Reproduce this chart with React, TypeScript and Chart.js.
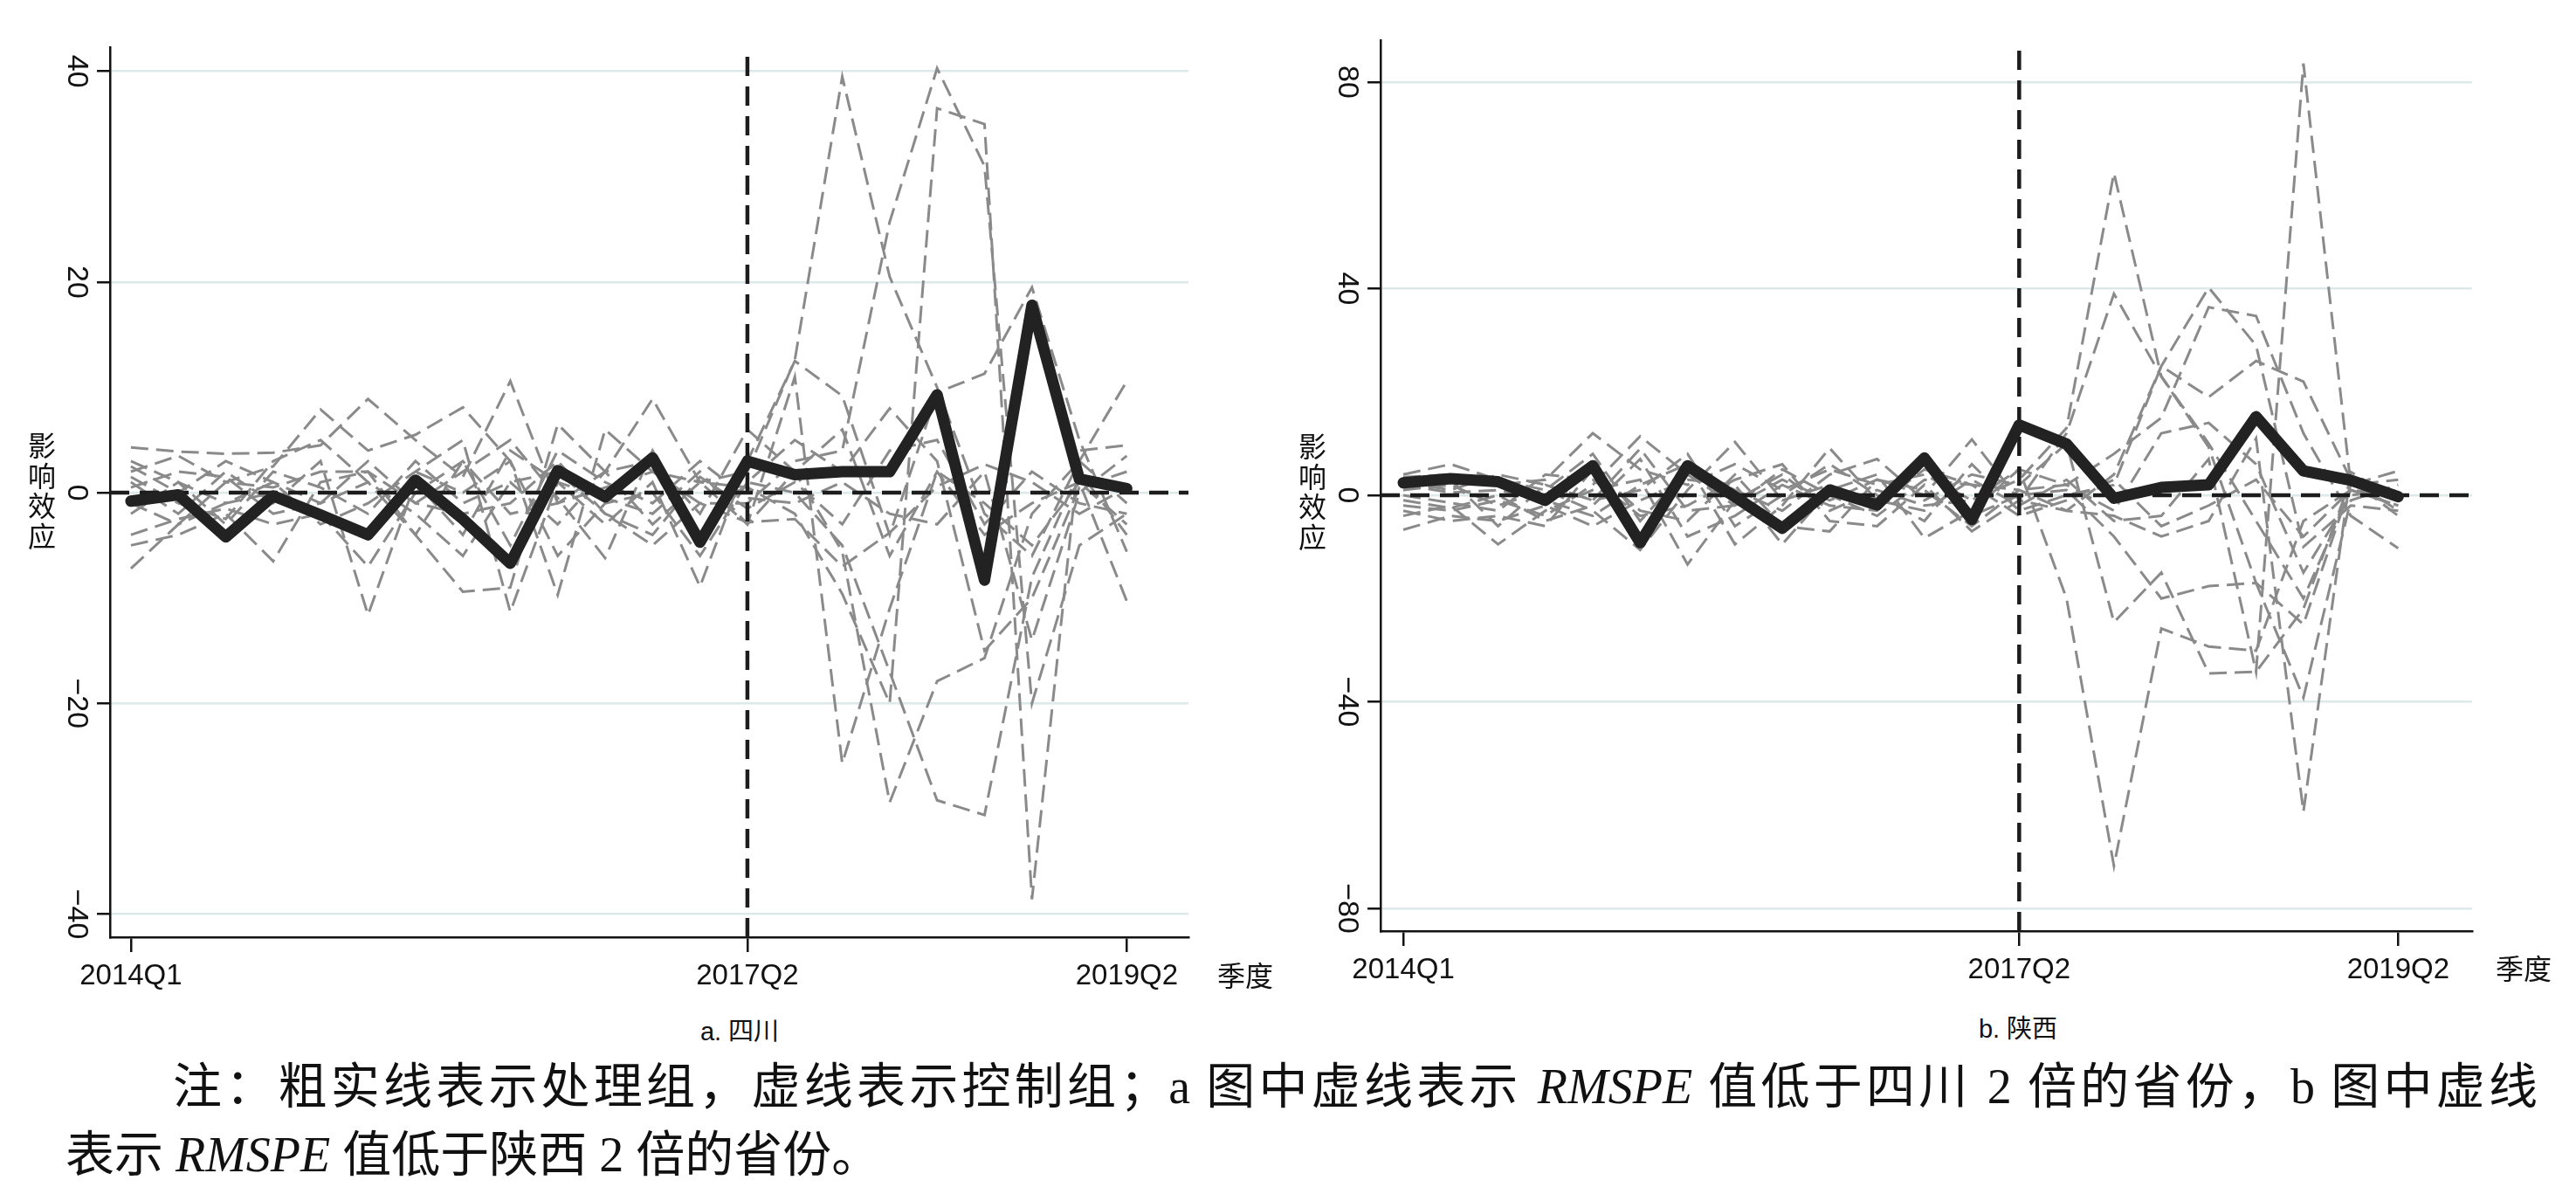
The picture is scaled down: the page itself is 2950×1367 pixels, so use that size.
import { useEffect, useRef } from "react";
import { Chart, registerables, type ChartConfiguration } from "chart.js";

Chart.register(...registerables);
Chart.defaults.font.family = "'Liberation Sans', Arial, sans-serif";

const quarterLabels = [
  "2014Q1", "2014Q2", "2014Q3", "2014Q4",
  "2015Q1", "2015Q2", "2015Q3", "2015Q4",
  "2016Q1", "2016Q2", "2016Q3", "2016Q4",
  "2017Q1", "2017Q2", "2017Q3", "2017Q4",
  "2018Q1", "2018Q2", "2018Q3", "2018Q4",
  "2019Q1", "2019Q2",
];
const xTickLabels = ["2014Q1", "2017Q2", "2019Q2"];
const treatQuarter = "2017Q2";

// a. 四川
const sichuanYTicks = [40, 20, 0, -20, -40];
const sichuanTreated = [-0.8, -0.2, -4.2, -0.3, -2.1, -4.0, 1.2, -2.5, -6.7, 2.1, -0.4, 3.3, -4.7, 3.0, 1.7, 2.0, 2.0, 9.3, -8.3, 17.8, 1.3, 0.4];
const sichuanControls = [
  [4.3, 3.9, 3.7, 3.8, 4.5, 8.9, 5.0, 1.5, 10.6, -1.0, 0.5, 2.0, 1.0, 2.0, 12.6, 39.5, 20.5, 10.0, -2.0, -6.0, 3.0, 10.6],
  [2.0, 3.5, 1.0, 2.5, 7.9, 4.0, 5.5, 8.1, 3.0, -9.7, 6.0, 2.0, -1.0, -1.0, 3.0, 4.0, 25.7, 40.3, 31.0, -20.0, -5.0, -2.0],
  [-2.0, 1.0, -3.0, 2.0, 0.5, -2.0, 3.0, -1.0, 1.0, -3.0, 2.0, 8.9, 1.0, 0.5, -2.0, -9.6, -20.0, 36.5, 35.0, -38.6, 4.0, 4.5],
  [1.0, -2.0, 2.0, -1.0, 3.0, -11.6, 1.0, -4.0, 4.0, 1.0, -3.0, 1.0, -8.9, 3.0, 12.5, 9.2, -4.0, 9.5, 11.3, 19.5, 5.0, -5.6],
  [-5.0, -4.0, -2.0, -6.5, 1.0, 2.0, -4.0, -9.4, -9.0, 6.5, 2.0, -3.0, 1.0, -3.0, 11.0, -25.7, -11.0, 2.0, -1.0, -5.0, 1.0, -3.0],
  [-7.2, -3.0, -1.0, 1.0, -3.0, -1.0, 2.0, 5.0, -11.3, 1.0, -0.5, -2.0, 2.0, -3.0, 2.0, -5.6, -29.4, -17.9, -15.7, -2.0, 3.0, -1.0],
  [0.5, 2.0, 1.5, -2.0, -1.0, 3.0, -1.0, 2.0, 5.0, -0.5, -6.2, 4.0, -4.0, 1.0, 0.0, -5.0, -17.0, -29.2, -30.6, -8.0, 2.0, -4.0],
  [3.0, 1.0, -1.0, 0.0, -2.0, -7.0, 0.0, 3.0, -2.0, -1.0, 2.0, 3.0, -2.0, 6.0, 2.0, 6.0, -6.0, 2.0, -4.0, -1.0, 1.0, -10.3],
  [-1.0, -3.0, 1.0, 0.5, 2.0, 2.0, -1.0, -2.0, -1.0, 3.0, -2.0, -5.0, -1.0, -2.8, -2.5, -7.0, -3.8, 0.6, 2.7, 1.0, -2.0, 0.5],
  [-4.0, -2.5, -1.5, -3.0, -2.0, -4.0, 2.0, 0.0, 3.0, -6.0, -1.0, 0.0, -6.0, 1.0, 5.0, 2.0, 8.0, 3.0, -15.0, -10.0, 0.5, 2.0],
  [2.5, 0.0, 3.0, 1.0, -1.0, 1.0, -4.0, 3.0, -5.0, 4.0, 1.0, -1.0, 3.0, -0.5, -1.0, 1.0, -2.0, -3.0, 2.0, -14.0, 0.0, 3.5],
  [1.5, -1.0, -2.5, 3.0, 5.0, 1.0, -2.0, -6.0, 1.0, 2.0, -2.0, -4.0, 1.5, -1.5, 1.0, -3.0, 4.0, 5.0, -3.0, 2.0, -1.0, -2.0],
];

// b. 陕西
const shaanxiYTicks = [80, 40, 0, -40, -80];
const shaanxiTreated = [2.4, 3.2, 2.6, -1.0, 5.7, -9.2, 5.7, -0.3, -6.4, 1.0, -1.9, 7.2, -4.7, 13.6, 9.9, -0.6, 1.5, 2.0, 15.2, 4.7, 2.9, -0.3];
const shaanxiControls = [
  [3.5, 4.0, 2.0, 3.0, 12.0, 5.0, 2.0, 6.0, 1.0, 5.0, 2.0, 4.0, -1.0, 3.0, 13.0, 62.4, 23.0, 10.0, -5.0, -20.0, 1.0, -2.0],
  [-2.0, -3.0, -1.0, -4.0, 2.0, 11.4, 4.0, -2.0, 3.0, -1.0, 3.0, 0.0, 10.8, -1.0, 12.0, 39.0, 23.0, 9.3, -17.0, -25.0, 2.0, 3.0],
  [1.0, 2.0, -2.0, 1.0, -3.0, -10.6, 1.0, 10.3, -1.0, 2.0, -2.0, 5.0, 2.0, 1.0, -3.0, 4.0, 25.0, 40.2, 29.0, -10.0, -2.0, -3.0],
  [-4.0, -2.0, -9.5, -3.0, 1.0, 3.0, -13.4, -1.0, 4.0, -3.0, 1.0, -2.0, -1.0, 5.0, 2.0, 8.0, 15.0, 36.4, 34.7, 12.0, -4.0, -10.3],
  [2.0, 0.5, 1.0, -1.0, -4.0, 2.0, 6.0, -9.5, -2.0, 9.1, -1.0, -3.0, 3.0, -2.0, 3.0, -5.0, -4.0, 7.0, -34.2, 83.6, 2.0, 4.7],
  [-6.7, -4.0, -5.0, -2.0, -6.0, -1.0, 3.0, 2.0, -9.5, 1.0, 4.0, -8.3, -3.0, 5.0, -20.0, -71.8, -25.8, -29.3, -30.1, -5.0, 1.0, 0.0],
  [0.0, -1.5, -3.0, 4.0, 3.0, -4.0, -2.0, 3.0, 6.0, -5.0, -6.0, 2.0, -7.0, -1.0, -3.0, -4.0, -8.0, -5.0, 11.0, -61.3, 4.5, -1.0],
  [4.0, 6.0, 3.0, 1.0, 8.0, -5.0, 5.0, 1.0, -3.0, 4.0, 7.0, -1.0, 4.0, 2.0, 10.0, -24.6, -15.0, -34.5, -34.2, -22.0, 3.0, -4.0],
  [-1.0, -2.5, 0.0, -5.0, -2.0, 7.0, -8.0, -4.0, 2.0, -2.0, -3.0, 6.0, -4.0, 0.0, 1.0, -8.0, -20.0, -17.6, -17.0, -39.2, -1.0, 2.0],
  [2.5, 1.0, 4.0, 2.0, -1.0, 1.0, 8.0, -6.0, 0.0, 6.0, 0.0, -5.0, 6.0, -3.0, 0.0, 2.0, 25.0, 19.0, 26.0, 22.0, 3.0, -3.0],
  [-3.0, -5.0, -4.0, -6.0, 5.0, -3.0, -5.0, 4.0, -6.0, -7.0, 3.0, 1.0, -6.0, 1.0, 2.0, -3.0, 12.0, 14.0, 6.0, -15.0, 0.0, 1.0],
  [1.0, 3.0, -6.0, 2.0, -1.0, 9.0, -3.0, -2.0, 5.0, 0.0, -4.0, 3.0, 2.0, -4.0, -1.0, 3.0, -6.0, -2.0, 3.0, -8.0, 1.0, -2.0],
];

type PanelSpec = {
  treated: number[];
  controls: number[][];
  yTicks: number[];
  yMin: number;
  yMax: number;
  xMin: number;
  xMax: number;
  left: number;
  width: number;
  height: number;
  padTop: number;
  padRight: number;
  xAxisHeight: number;
  xLabelPad: number;
};

const fmtY = (v: number) => (v < 0 ? "\u2212" + Math.abs(v) : String(v));

function makeConfig(p: PanelSpec): ChartConfiguration<"line"> {
  const pts = (vals: number[]) => vals.map((v, i) => ({ x: i, y: v }));
  const t = quarterLabels.indexOf(treatQuarter);
  const refLine = {
    borderColor: "#1c1c1c",
    borderWidth: 4.5,
    borderDash: [22, 12],
    pointRadius: 0,
  };
  return {
    type: "line",
    data: {
      datasets: [
        {
          data: pts(p.treated),
          borderColor: "#222222",
          borderWidth: 13,
          borderJoinStyle: "round",
          borderCapStyle: "round",
          pointRadius: 0,
        },
        { ...refLine, data: [{ x: p.xMin, y: 0 }, { x: p.xMax, y: 0 }] },
        { ...refLine, data: [{ x: t, y: p.yMin }, { x: t, y: p.yMax }] },
        ...p.controls.map((c) => ({
          data: pts(c),
          borderColor: "#8a8a8a",
          borderWidth: 3,
          borderDash: [20, 9],
          pointRadius: 0,
        })),
      ],
    },
    options: {
      animation: false,
      responsive: true,
      maintainAspectRatio: false,
      devicePixelRatio: 1,
      layout: { padding: { top: p.padTop, right: p.padRight, left: 0, bottom: 0 } },
      plugins: { legend: { display: false }, tooltip: { enabled: false } },
      elements: { line: { tension: 0 }, point: { radius: 0 } },
      scales: {
        x: {
          type: "linear",
          min: p.xMin,
          max: p.xMax,
          afterBuildTicks: (s) => {
            s.ticks = xTickLabels.map((l) => ({ value: quarterLabels.indexOf(l) }));
          },
          afterFit: (s) => {
            s.height = p.xAxisHeight;
          },
          ticks: {
            callback: (v) => quarterLabels[v as number] ?? "",
            font: { size: 33 },
            color: "#111",
            padding: p.xLabelPad,
            maxRotation: 0,
            autoSkip: false,
          },
          grid: { drawOnChartArea: false, drawTicks: true, tickLength: 17, tickColor: "#111", lineWidth: 2.5 },
          border: { display: true, color: "#111", width: 2.5 },
        },
        y: {
          type: "linear",
          min: p.yMin,
          max: p.yMax,
          afterBuildTicks: (s) => {
            s.ticks = p.yTicks.map((v) => ({ value: v }));
          },
          afterFit: (s) => {
            s.width = 126;
          },
          ticks: {
            callback: (v) => fmtY(v as number),
            font: { size: 34 },
            color: "#111",
            minRotation: -90,
            maxRotation: -90,
            crossAlign: "center",
            padding: -5,
          },
          grid: { color: "#dde8ea", lineWidth: 2.5, tickColor: "#111", tickLength: 15, drawTicks: true },
          border: { display: true, color: "#111", width: 2.5 },
        },
      },
    },
  };
}

function Panel({ spec }: { spec: PanelSpec }) {
  const canvasRef = useRef<HTMLCanvasElement>(null);
  useEffect(() => {
    const canvas = canvasRef.current;
    if (!canvas) return;
    const chart = new Chart(canvas, makeConfig(spec));
    return () => chart.destroy();
  }, [spec]);
  return (
    <div style={{ position: "absolute", left: spec.left, top: 0, width: spec.width, height: spec.height }}>
      <canvas ref={canvasRef} />
    </div>
  );
}

const sichuanSpec: PanelSpec = {
  treated: sichuanTreated,
  controls: sichuanControls,
  yTicks: sichuanYTicks,
  yMin: -42.2,
  yMax: 42.3,
  xMin: -0.44,
  xMax: 22.3,
  left: 0,
  width: 1455,
  height: 1160,
  padTop: 54,
  padRight: 94,
  xAxisHeight: 87,
  xLabelPad: 8,
};

const shaanxiSpec: PanelSpec = {
  treated: shaanxiTreated,
  controls: shaanxiControls,
  yTicks: shaanxiYTicks,
  yMin: -84.4,
  yMax: 88.1,
  xMin: -0.48,
  xMax: 22.56,
  left: 1455,
  width: 1475,
  height: 1160,
  padTop: 46,
  padRight: 99,
  xAxisHeight: 94,
  xLabelPad: 8,
};

const cjk = "'Liberation Sans', 'Noto Sans CJK SC', sans-serif";

function Label({ x, y, size, children }: { x: number; y: number; size: number; children: React.ReactNode }) {
  return (
    <div
      style={{
        position: "absolute",
        left: x,
        top: y,
        transform: "translate(-50%, -50%)",
        fontFamily: cjk,
        fontSize: size,
        lineHeight: 1.08,
        color: "#111",
        whiteSpace: "nowrap",
        textAlign: "center",
      }}
    >
      {children}
    </div>
  );
}

const yTitle = (
  <>
    影<br />响<br />效<br />应
  </>
);

const noteFont = "'Liberation Serif', 'Noto Sans CJK SC', serif";

export default function App() {
  return (
    <div style={{ position: "absolute", left: 0, top: 0, width: 2950, height: 1367, background: "#fff", overflow: "hidden" }}>
      <Panel spec={sichuanSpec} />
      <Panel spec={shaanxiSpec} />
      <Label x={48} y={563} size={32}>{yTitle}</Label>
      <Label x={1503} y={564} size={32}>{yTitle}</Label>
      <Label x={1426} y={1118} size={32}>季度</Label>
      <Label x={2890} y={1110} size={32}>季度</Label>
      <Label x={847} y={1182} size={29}>a. 四川</Label>
      <Label x={2311} y={1179} size={29}>b. 陕西</Label>
      <div
        style={{
          position: "absolute",
          left: 198,
          top: 1204,
          width: 2708,
          fontFamily: noteFont,
          fontSize: 56,
          lineHeight: "80px",
          color: "#111",
          textAlign: "justify",
          textAlignLast: "justify",
          whiteSpace: "nowrap",
        }}
      >
        注：粗实线表示处理组，虚线表示控制组；a 图中虚线表示 <i>RMSPE</i> 值低于四川 2 倍的省份，b 图中虚线
      </div>
      <div
        style={{
          position: "absolute",
          left: 75,
          top: 1282,
          fontFamily: noteFont,
          fontSize: 56,
          lineHeight: "80px",
          color: "#111",
          whiteSpace: "nowrap",
        }}
      >
        表示 <i>RMSPE</i> 值低于陕西 2 倍的省份。
      </div>
    </div>
  );
}
